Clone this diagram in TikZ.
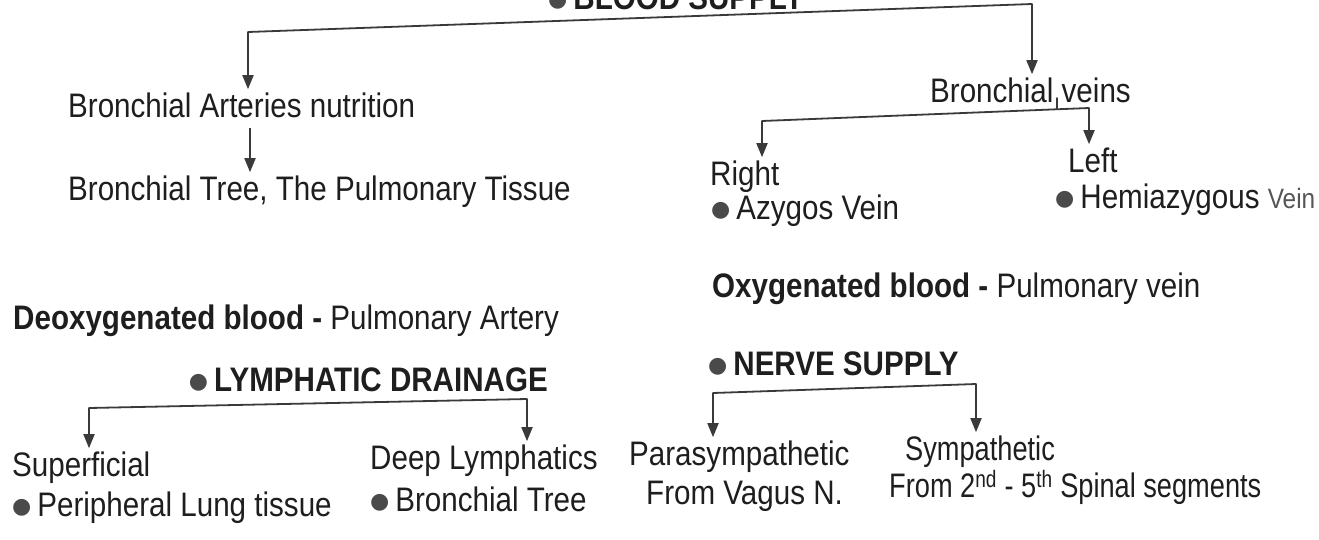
\documentclass[tikz,border=0pt]{standalone}
\usepackage{fontspec}
\setmainfont{Liberation Sans}[FakeStretch=0.87]
\newfontfamily\narrowfnt{Liberation Sans}[FakeStretch=0.80]
\newfontfamily\symfnt{DejaVu Sans}
\usetikzlibrary{arrows.meta}
\definecolor{ink}{HTML}{1E1E1E}
\definecolor{lineink}{HTML}{3A3A3A}
\definecolor{bulink}{HTML}{4A4A4A}
\newcommand{\bul}{\raisebox{2.5pt}{\symfnt\fontsize{22}{22}\selectfont\textcolor{bulink}{●}}\hspace{6pt}}
\begin{document}
\begin{tikzpicture}[x=1pt,y=-1pt,
  txt/.style={inner sep=0pt, anchor=base west, text=ink, font=\fontsize{34}{38}\selectfont},
  hd/.style={txt, font=\fontsize{34}{38}\selectfont\bfseries},
  arr/.style={draw=lineink, line width=1.8pt, -{Triangle[width=11pt,length=14pt]}, shorten >=3pt},
  brk/.style={draw=lineink, line width=1.8pt, line cap=round}]
\useasboundingbox[fill=white] (0,0) rectangle (1319,539);

% ---- Blood supply
\node[hd] (blood) at (548,9) {\bul BLOOD SUPPLY};
\node[txt] (arteries) at (68,117) {Bronchial Arteries nutrition};
\node[txt] (tree) at (68,200) {Bronchial Tree, The Pulmonary Tissue};
\node[txt] (bveins) at (930,102) {Bronchial veins};
\node[txt] (right) at (710,185) {Right};
\node[txt] (azygos) at (711,219) {\bul Azygos Vein};
\node[txt] (left) at (1068,172) {Left};
\node[txt] (hemi) at (1055,208) {\bul Hemiazygous {\fontsize{28}{30}\selectfont\color{ink!75}Vein}};

\coordinate (bsL) at (248,32);
\coordinate (bsR) at (1032,4);
\draw[brk] (bsL) -- (bsR);
\draw[arr] (bsL) -- (bsL |- arteries.north);
\draw[arr] (bsR) -- (bsR |- bveins.north);

\coordinate (aS) at (250,128);
\draw[arr] (aS) -- (aS |- tree.north);

\coordinate (bvT) at (1057,98);
\coordinate (bvL) at (762,121);
\coordinate (bvR) at (1089,108);
\draw[brk] (bvT) -- (1057,109);
\draw[brk] (bvL) -- (bvR);
\draw[arr] (bvL) -- (bvL |- right.north);
\draw[arr] (bvR) -- (bvR |- left.north);

\node[txt] (deoxy) at (13,329) {\textbf{Deoxygenated blood -} Pulmonary Artery};
\node[txt] (oxy) at (712,297) {\textbf{Oxygenated blood -} Pulmonary vein};

% ---- Lymphatic drainage
\node[hd, anchor=base east] (lymph) at (548,391) {\bul LYMPHATIC DRAINAGE};
\node[txt] (superf) at (12,476) {Superficial};
\node[txt] (periph) at (12,516) {\bul Peripheral Lung tissue};
\node[txt] (deep) at (370,469) {Deep Lymphatics};
\node[txt] (btree) at (370,511) {\bul Bronchial Tree};
\coordinate (lyL) at (89,408);
\coordinate (lyR) at (527,399);
\draw[brk] (lyL) -- (lyR);
\draw[arr] (lyL) -- (lyL |- superf.north);
\draw[arr] (lyR) -- (lyR |- deep.north);

% ---- Nerve supply
\node[hd] (nerve) at (708,375) {\bul NERVE SUPPLY};
\node[txt] (para) at (629,465) {Parasympathetic};
\node[txt] (vagus) at (646,504) {From Vagus N.};
\node[txt, font=\fontsize{34}{38}\narrowfnt] (symp) at (905,460) {Sympathetic};
\node[txt, font=\fontsize{34}{38}\narrowfnt] (spinal) at (889,497) {From 2\textsuperscript{nd} - 5\textsuperscript{th} Spinal segments};
\coordinate (nvL) at (713,393);
\coordinate (nvR) at (976,384);
\draw[brk] (nvL) -- (nvR);
\draw[arr] (nvL) -- (nvL |- para.north);
\draw[arr] (nvR) -- (nvR |- symp.north);
\end{tikzpicture}
\end{document}
